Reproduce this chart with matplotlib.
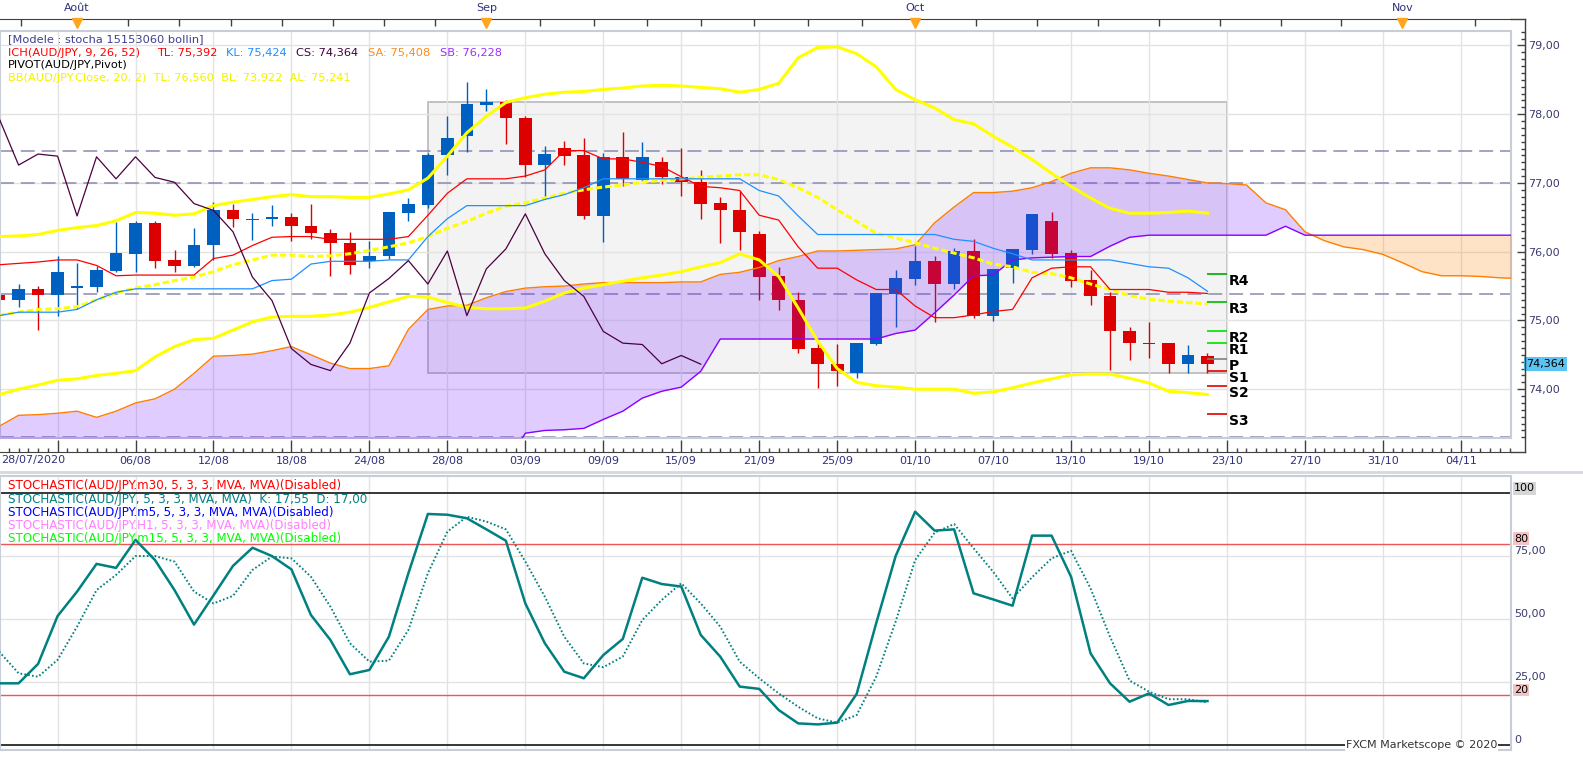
import numpy as np
import matplotlib
matplotlib.use("Agg")
import matplotlib.pyplot as plt
import matplotlib.transforms as mtransforms
from matplotlib.patches import Rectangle
from matplotlib.ticker import MultipleLocator, FuncFormatter

plt.rcParams['font.family'] = ['DejaVu Sans']
plt.rcParams['lines.scale_dashes'] = False

W, H = 1583, 760

# ---- daily AUD/JPY candles, 28/07/2020 .. 22/10/2020 (index 0..62) ----
opens = [75.37, 75.29, 75.45, 75.37, 75.47, 75.49, 75.72, 75.97, 76.41, 75.88,
         75.79, 76.09, 76.61, 76.46, 76.47, 76.51, 76.38, 76.27, 76.13, 75.87,
         75.93, 76.57, 76.68, 77.40, 77.69, 78.14, 78.17, 77.95, 77.26, 77.51,
         77.40, 76.52, 77.38, 77.05, 77.31, 77.09, 77.02, 76.71, 76.61, 76.26,
         75.64, 75.30, 74.60, 74.37, 74.24, 74.66, 75.39, 75.60, 75.87, 75.53,
         76.01, 75.07, 75.77, 76.03, 76.44, 75.98, 75.59, 75.36, 74.85, 74.67,
         74.67, 74.37, 74.49]
highs = [75.42, 75.53, 75.50, 75.94, 75.83, 75.79, 76.43, 76.45, 76.45, 76.03,
         76.35, 76.72, 76.70, 76.56, 76.68, 76.56, 76.70, 76.33, 76.29, 76.15,
         76.58, 76.78, 77.44, 77.98, 78.47, 78.37, 78.21, 77.98, 77.54, 77.61,
         77.66, 77.44, 77.74, 77.60, 77.37, 77.51, 77.19, 76.80, 76.88, 76.30,
         75.78, 75.41, 74.68, 74.65, 74.67, 75.40, 75.73, 76.08, 75.93, 76.06,
         76.19, 75.75, 76.04, 76.55, 76.58, 76.03, 75.74, 75.41, 74.90, 74.97,
         74.67, 74.64, 74.52]
lows = [75.26, 75.20, 74.86, 75.06, 75.16, 75.42, 75.70, 75.70, 75.76, 75.71,
        75.78, 75.88, 76.36, 76.17, 76.38, 76.15, 76.18, 75.64, 75.67, 75.76,
        75.90, 76.45, 76.63, 77.12, 77.45, 78.04, 77.56, 77.09, 76.80, 77.26,
        76.48, 76.14, 76.96, 77.03, 76.99, 76.81, 76.48, 76.13, 76.02, 75.30,
        75.15, 74.53, 74.01, 74.05, 74.16, 74.64, 74.91, 75.52, 74.97, 75.45,
        75.04, 74.99, 75.55, 75.96, 75.91, 75.48, 75.23, 74.28, 74.43, 74.45,
        74.24, 74.24, 74.24]
closes = [75.29, 75.45, 75.37, 75.71, 75.50, 75.74, 75.98, 76.41, 75.86, 75.79,
          76.10, 76.61, 76.47, 76.48, 76.51, 76.37, 76.27, 76.12, 75.81, 75.94,
          76.58, 76.70, 77.41, 77.66, 78.15, 78.17, 77.94, 77.26, 77.42, 77.39,
          76.52, 77.38, 77.06, 77.38, 77.08, 77.01, 76.70, 76.60, 76.29, 75.63,
          75.29, 74.59, 74.36, 74.27, 74.67, 75.40, 75.61, 75.87, 75.53, 76.01,
          75.07, 75.75, 76.04, 76.55, 75.97, 75.58, 75.35, 74.84, 74.67, 74.65,
          74.37, 74.49, 74.364]

# ---- Ichimoku ----
tenkan = [75.81, 75.83, 75.85, 75.88, 75.88, 75.80, 75.65, 75.66, 75.66, 75.66,
          75.66, 75.90, 75.95, 76.09, 76.21, 76.22, 76.22, 76.18, 76.18, 76.18,
          76.18, 76.22, 76.53, 76.85, 77.06, 77.06, 77.06, 77.10, 77.19, 77.47,
          77.47, 77.35, 77.35, 77.30, 77.24, 77.09, 76.95, 76.93, 76.89, 76.53,
          76.46, 76.07, 75.76, 75.76, 75.59, 75.45, 75.45, 75.21, 75.04, 75.04,
          75.08, 75.13, 75.16, 75.62, 75.76, 75.78, 75.78, 75.45, 75.45, 75.45,
          75.41, 75.41, 75.392]
kijun = [75.07, 75.12, 75.12, 75.12, 75.16, 75.30, 75.41, 75.46, 75.46, 75.46,
         75.46, 75.46, 75.46, 75.46, 75.58, 75.60, 75.82, 75.86, 75.86, 75.86,
         75.88, 75.88, 76.22, 76.48, 76.67, 76.67, 76.67, 76.67, 76.76, 76.83,
         76.93, 77.06, 77.06, 77.06, 77.06, 77.06, 77.06, 77.06, 77.06, 76.89,
         76.81, 76.52, 76.25, 76.25, 76.25, 76.25, 76.25, 76.25, 76.25, 76.18,
         76.15, 76.05, 75.97, 75.88, 75.88, 75.88, 75.88, 75.88, 75.83, 75.78,
         75.76, 75.62, 75.424]
# senkou spans run 26 bars into the future (index 0..78)
senkou_a = [73.46, 73.62, 73.63, 73.65, 73.68, 73.59, 73.68, 73.80, 73.86, 74.00,
            74.23, 74.48, 74.49, 74.51, 74.56, 74.62, 74.50, 74.38, 74.30, 74.30,
            74.34, 74.87, 75.16, 75.21, 75.22, 75.33, 75.42, 75.47, 75.49, 75.50,
            75.53, 75.55, 75.55, 75.55, 75.55, 75.56, 75.56, 75.67, 75.70, 75.77,
            75.87, 75.93, 76.01, 76.01, 76.02, 76.03, 76.04, 76.10, 76.42, 76.65,
            76.86, 76.86, 76.88, 76.93, 77.02, 77.14, 77.22, 77.22, 77.19, 77.14,
            77.10, 77.05, 77.00, 76.99, 76.97, 76.71, 76.61, 76.29, 76.16, 76.07,
            76.03, 75.96, 75.84, 75.71, 75.65, 75.65, 75.64, 75.62, 75.61]
senkou_b = [72.90] * 27 + [
            73.36, 73.40, 73.41, 73.43, 73.56, 73.68, 73.87, 73.97, 74.03, 74.26,
            74.73, 74.73, 74.73, 74.73, 74.73, 74.73, 74.73, 74.73, 74.73, 74.81,
            74.86, 75.11, 75.37, 75.65, 75.66, 75.88, 75.91, 75.92, 75.93, 75.93,
            76.08, 76.21, 76.24, 76.24, 76.24, 76.24, 76.24, 76.24, 76.24, 76.37,
            76.24, 76.24, 76.24, 76.24, 76.24, 76.24, 76.24, 76.24, 76.24, 76.24,
            76.24, 76.24]

# ---- Bollinger (20, 2) ----
bb_upper = [76.22, 76.23, 76.25, 76.31, 76.35, 76.38, 76.45, 76.57, 76.56, 76.53,
            76.55, 76.67, 76.72, 76.76, 76.80, 76.83, 76.80, 76.80, 76.79, 76.79,
            76.84, 76.90, 77.07, 77.39, 77.73, 77.97, 78.17, 78.24, 78.29, 78.32,
            78.33, 78.36, 78.38, 78.41, 78.42, 78.41, 78.39, 78.37, 78.32, 78.36,
            78.45, 78.82, 78.97, 78.98, 78.88, 78.69, 78.36, 78.21, 78.09, 77.92,
            77.86, 77.68, 77.52, 77.34, 77.14, 76.95, 76.78, 76.63, 76.56, 76.56,
            76.57, 76.59, 76.56]
bb_mid = [75.08, 75.12, 75.16, 75.17, 75.20, 75.30, 75.40, 75.47, 75.52, 75.58,
          75.63, 75.71, 75.81, 75.88, 75.95, 75.95, 75.93, 75.94, 75.97, 76.02,
          76.07, 76.13, 76.22, 76.34, 76.44, 76.56, 76.66, 76.71, 76.78, 76.85,
          76.90, 76.94, 76.97, 77.01, 77.04, 77.06, 77.08, 77.10, 77.12, 77.12,
          77.05, 76.93, 76.79, 76.61, 76.44, 76.27, 76.20, 76.13, 76.05, 75.98,
          75.91, 75.82, 75.78, 75.70, 75.68, 75.62, 75.53, 75.45, 75.36, 75.31,
          75.28, 75.26, 75.241]
bb_lower = [73.92, 74.00, 74.06, 74.13, 74.15, 74.20, 74.23, 74.27, 74.47, 74.62,
            74.72, 74.74, 74.86, 74.98, 75.05, 75.06, 75.06, 75.08, 75.12, 75.19,
            75.27, 75.35, 75.34, 75.26, 75.19, 75.17, 75.17, 75.18, 75.28, 75.40,
            75.47, 75.52, 75.57, 75.62, 75.66, 75.71, 75.78, 75.84, 75.97, 75.88,
            75.64, 75.18, 74.70, 74.30, 74.10, 74.05, 74.03, 74.00, 74.00, 74.00,
            73.94, 73.96, 74.02, 74.09, 74.15, 74.21, 74.22, 74.22, 74.16, 74.09,
            73.97, 73.95, 73.922]

# ---- pivots and user lines ----
pivot_names = ['R4', 'R3', 'R2', 'R1', 'P', 'S1', 'S2', 'S3']
pivot_levels = [75.67, 75.27, 74.85, 74.67, 74.44, 74.26, 74.04, 73.64]
pivot_colors = ['#00A800', '#00B800', '#00E000', '#00E000', '#808080',
                '#E00000', '#E00000', '#E00000']
h_lines = [77.46, 77.00, 75.39, 73.31]
box_x = (22, 63)
box_y = (74.23, 78.18)
last_price = 74.364

# ---- stochastic (5,3,3) ----
stoch_k = [24.6, 24.6, 32.3, 51.3, 61.0, 72.0, 70.4, 81.5, 73.5, 61.6,
           47.9, 59.5, 71.2, 78.4, 75.1, 69.8, 51.7, 41.8, 28.2, 29.9,
           43.1, 68.3, 91.8, 91.5, 90.1, 85.7, 81.2, 56.3, 40.5, 29.2,
           26.6, 35.8, 42.2, 66.5, 64.0, 63.0, 43.8, 35.2, 23.3, 22.4,
           14.0, 8.7, 8.3, 9.0, 20.4, 48.4, 75.1, 92.7, 85.2, 85.7,
           60.3, 57.9, 55.4, 83.2, 83.2, 66.9, 36.5, 24.6, 17.3, 20.6,
           16.0, 17.6, 17.55]
stoch_d = [37.2, 28.6, 27.2, 33.9, 47.1, 61.6, 67.6, 75.1, 75.1, 72.9,
           61.0, 56.3, 59.3, 69.6, 74.9, 74.2, 66.9, 55.0, 40.5, 33.2,
           33.6, 45.8, 68.3, 84.8, 90.7, 88.8, 85.7, 72.9, 59.0, 43.1,
           32.5, 31.0, 35.2, 49.7, 57.7, 64.3, 56.3, 47.1, 33.2, 26.6,
           20.6, 15.3, 10.7, 9.0, 12.0, 27.2, 49.1, 73.5, 84.4, 87.8,
           78.2, 68.9, 58.3, 66.7, 74.2, 77.2, 62.3, 43.1, 25.7, 21.3,
           18.3, 18.3, 17.0]

# ---- axis labels ----
grid_idx = list(range(3, 78, 4))
date_labels = ['', '06/08', '12/08', '18/08', '24/08', '28/08', '03/09', '09/09',
               '15/09', '21/09', '25/09', '01/10', '07/10', '13/10', '19/10',
               '23/10', '27/10', '31/10', '04/11']
month_idx = [-19, 4, 25, 47, 72, 102]
month_labels = ['', 'Août', 'Sep', 'Oct', 'Nov', '']

navy = '#30307A'
frame = '#C8CED8'

fig = plt.figure(figsize=(W / 100, H / 100), dpi=100)
fig.patch.set_facecolor('white')

ax = fig.add_axes([0, 1 - 438 / H, 1511 / W, 407 / H])
axs = fig.add_axes([0, 1 - 750 / H, 1511 / W, 274 / H])

x_lo, x_hi = 0.046, 0.046 + 1511 / 19.49
ax.set_xlim(x_lo, x_hi)
ax.set_ylim(79.21 - 407 / 68.75, 79.21)
axs.set_xlim(x_lo, x_hi)
axs.set_ylim(-1.86, 106.87)

for a in (ax, axs):
    a.set_axisbelow(True)
    a.set_xticks(grid_idx)
    a.grid(True, color='#E3E3E3', lw=1)
    a.tick_params(bottom=False, left=False, labelbottom=False, labelleft=False)
    for s in a.spines.values():
        s.set_color(frame)
        s.set_linewidth(1.5)
ax.set_yticks([74, 75, 76, 77, 78, 79])
axs.set_yticks([25, 50, 75])

# ---- price panel ----
n = len(closes)
idx = np.arange(n)
o = np.array(opens); c = np.array(closes)
col = np.where(c >= o, '#0060C0', '#DD0000')

ax.add_patch(Rectangle((box_x[0], box_y[0]), box_x[1] - box_x[0], box_y[1] - box_y[0],
                       facecolor='#F3F3F3', edgecolor='#BDBDBD', lw=1.3, zorder=0.3))
for v in h_lines:
    ax.axhline(v, color='#8A8AB2', lw=1.1, ls=(0, (10, 5)), zorder=1)

ax.vlines(idx, lows, highs, colors=col, lw=1.0, zorder=2)
body = np.maximum(np.abs(c - o), 0.015)
ax.bar(idx, body, bottom=np.minimum(o, c), width=0.65, color=col, lw=0, zorder=2.1)

xs = np.arange(len(senkou_a))
sa = np.array(senkou_a); sb = np.array(senkou_b)
ax.fill_between(xs, sa, sb, where=sa >= sb, interpolate=True,
                color='#741BFF', alpha=0.22, lw=0, zorder=3)
ax.fill_between(xs, sa, sb, where=sa < sb, interpolate=True,
                color='#FF8000', alpha=0.22, lw=0, zorder=3)
ax.plot(xs, sa, color='#FF7F00', lw=1.0, zorder=4)
ax.plot(xs, sb, color='#8B00FF', lw=1.0, zorder=4)

ax.plot(idx, bb_upper, color='#FFFF00', lw=2.2, zorder=4)
ax.plot(idx, bb_lower, color='#FFFF00', lw=2.2, zorder=4)
ax.plot(idx, bb_mid, color='#FFFF00', lw=2.2, ls=(0, (4.5, 2.2)), zorder=4)

ax.plot(idx, tenkan, color='#FF0000', lw=0.9, zorder=4.2)
ax.plot(idx, kijun, color='#1E90FF', lw=0.9, zorder=4.2)
chikou = c[26:]
ax.plot(np.arange(len(chikou)), chikou, color='#4B0040', lw=0.9, zorder=4.2)

ax.hlines(pivot_levels, 62, 63, colors=pivot_colors, lw=1.2, zorder=5)
for name, lv in zip(pivot_names, pivot_levels):
    ax.text(63.1, lv, name, ha='left', va='top', fontsize=10, fontweight='bold',
            color='black', zorder=6)

# right price scale
fmt = FuncFormatter(lambda v, p: f"{v:.2f}".replace('.', ','))
sec_r = ax.secondary_yaxis(1 + 14 / 1511)
sec_r.set_yticks([74, 75, 76, 77, 78, 79])
sec_r.yaxis.set_major_formatter(fmt)
sec_r.yaxis.set_minor_locator(MultipleLocator(0.1))
sec_r.tick_params(which='major', direction='in', length=6, width=1, color='#404040',
                  labelsize=8, labelcolor='#3A3A70', pad=2)
sec_r.tick_params(which='minor', direction='in', length=3, width=1, color='#404040')
sec_r.spines['right'].set_color('#404040')
ax.text(1 + 15 / 1511, last_price, f"{last_price:.3f}".replace('.', ','),
        transform=ax.get_yaxis_transform(), ha='left', va='center', fontsize=8,
        color='black', clip_on=False, zorder=20,
        bbox=dict(boxstyle='square,pad=0.2', fc='#5BC4F5', ec='none'))

# bottom date scale
sec_b = ax.secondary_xaxis(-14 / 407)
sec_b.set_xticks(grid_idx, date_labels)
sec_b.xaxis.set_minor_locator(MultipleLocator(0.5))
sec_b.tick_params(which='major', direction='in', length=9, width=1, color='#404040',
                  labelsize=8, labelcolor=navy, pad=3)
sec_b.tick_params(which='minor', direction='in', length=3, width=1, color='#404040')
sec_b.spines['bottom'].set_color('#404040')
ax.text(0.1, -22 / 407, '28/07/2020', transform=ax.get_xaxis_transform(),
        ha='left', va='center', fontsize=8, color=navy, clip_on=False)

# top month scale
month_minor = np.concatenate([np.linspace(a, b, 9)[:-1]
                              for a, b in zip(month_idx[:-1], month_idx[1:])])
sec_t = ax.secondary_xaxis(1 + 12 / 407)
sec_t.set_xticks(month_idx, month_labels)
sec_t.set_xticks(month_minor, minor=True)
sec_t.tick_params(which='both', direction='in', length=5, width=1, color='#404040',
                  labelsize=8, labelcolor=navy, pad=4)
sec_t.spines['top'].set_color('#404040')
ax.plot(month_idx, [1 + 8 / 407] * len(month_idx), ls='none', marker='v', ms=7,
        color='#FFA520', mec='#FFA520', transform=ax.get_xaxis_transform(),
        clip_on=False, zorder=10)

# ---- stochastic panel ----
axs.axhline(100, color='black', lw=1.1, zorder=2)
axs.axhline(0, color='black', lw=1.1, zorder=2)
axs.axhline(80, color='#F05555', lw=1.0, zorder=2)
axs.axhline(20, color='#F05555', lw=1.0, zorder=2)
axs.plot(idx, stoch_d, color='#008080', lw=1.4, ls=(0, (1.2, 1.6)), zorder=3)
axs.plot(idx, stoch_k, color='#008080', lw=1.8, zorder=4)

ytr = mtransforms.blended_transform_factory(axs.transAxes, axs.transData)
stoch_ticks = [100, 80, 75, 50, 25, 20, 0]
for v in stoch_ticks:
    s = str(v) if v in (100, 80, 20, 0) else f"{v:.2f}".replace('.', ',')
    bb = None
    if v == 100:
        bb = dict(boxstyle='square,pad=0.12', fc='#D6D6D6', ec='none')
    elif v in (80, 20):
        bb = dict(boxstyle='square,pad=0.12', fc='#F4C4C4', ec='none')
    axs.text(1 + 3 / 1511, v, s, transform=ytr, ha='left', va='bottom', fontsize=8,
             color='#3A3A70' if bb is None else 'black', clip_on=False, bbox=bb)

# ---- overlay: legends and frame lines ----
ov = fig.add_axes([0, 0, 1, 1])
ov.set_xlim(0, W)
ov.set_ylim(H, 0)
ov.axis('off')
ov.patch.set_alpha(0)
ov.set_zorder(10)

ov.plot([1511, 1525], [19, 19], color='#404040', lw=1)
ov.plot([1525, 1525], [19, 452], color='#404040', lw=1)
ov.plot([1511, 1525], [452, 452], color='#404040', lw=1)
ov.plot([0, W], [472, 472], color='#D4D8E0', lw=2)

fs = 8.2
ov.text(8, 39.5, '[Modele : stocha 15153060 bollin]', color='#3F3F8F', fontsize=fs, va='center')
ich_parts = ['ICH(AUD/JPY, 9, 26, 52)', 'TL: 75,392', 'KL: 75,424', 'CS: 74,364',
             'SA: 75,408', 'SB: 76,228']
ich_x = [8, 157, 226, 296, 368, 440]
ich_col = ['#FF0000', '#FF0000', '#1E90FF', '#400040', '#FF8C1A', '#9B30FF']
for t, xx, cc in zip(ich_parts, ich_x, ich_col):
    ov.text(xx, 52.7, t, color=cc, fontsize=fs, va='center')
ov.text(8, 65.3, 'PIVOT(AUD/JPY,Pivot)', color='black', fontsize=fs, va='center')
ov.text(8, 78, 'BB(AUD/JPY.Close, 20, 2)  TL: 76,560  BL: 73,922  AL: 75,241',
        color='#F2F200', fontsize=fs, va='center')

stoch_leg = ['STOCHASTIC(AUD/JPY.m30, 5, 3, 3, MVA, MVA)(Disabled)',
             'STOCHASTIC(AUD/JPY, 5, 3, 3, MVA, MVA)  K: 17,55  D: 17,00',
             'STOCHASTIC(AUD/JPY.m5, 5, 3, 3, MVA, MVA)(Disabled)',
             'STOCHASTIC(AUD/JPY.H1, 5, 3, 3, MVA, MVA)(Disabled)',
             'STOCHASTIC(AUD/JPY.m15, 5, 3, 3, MVA, MVA)(Disabled)']
stoch_col = ['#FF0000', '#008080', '#0000FF', '#FF80FF', '#00FF00']
for k, (t, cc) in enumerate(zip(stoch_leg, stoch_col)):
    ov.text(8, 486 + k * 13.1, t, color=cc, fontsize=8.6, va='center')

ov.text(1497, 745, 'FXCM Marketscope © 2020', ha='right', va='center', fontsize=8,
        color='#333333', bbox=dict(boxstyle='square,pad=0.1', fc='white', ec='none'))

fig.savefig('out.png', dpi=100)
